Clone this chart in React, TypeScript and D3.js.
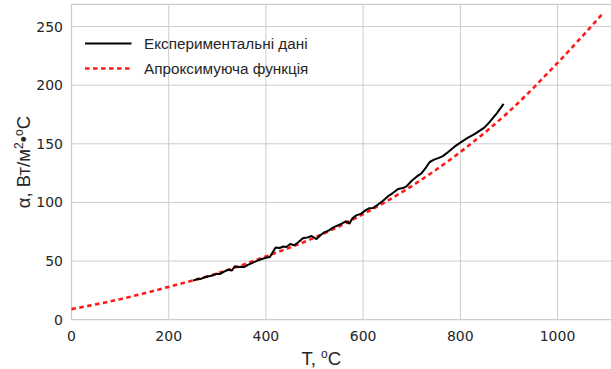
import React, { useEffect, useRef } from 'react';
import * as d3 from 'd3';

const expT = [250, 258, 266, 274, 282, 290, 298, 306, 314, 322, 330, 336, 342, 348, 356, 363, 370, 378, 384, 392,
  400, 408, 414, 420, 428, 436, 442, 450, 458, 466, 476, 486, 494, 504, 512, 520, 530, 538, 548, 556,
  565, 572, 578, 586, 596, 604, 612, 620, 630, 641, 652, 661, 672, 682, 690, 700, 710, 720, 728, 737,
  746, 756, 764, 775, 788, 800, 815, 830, 840, 850, 860, 875, 889];
const expA = [33.3, 34.5, 34.8, 36.2, 37.0, 37.6, 39.2, 39.0, 41.0, 42.6, 42.0, 45.6, 44.8, 45.2, 45.0, 46.7, 48.0, 49.5, 50.6, 51.8,
  52.8, 53.4, 57.5, 61.5, 61.2, 62.4, 62.0, 64.5, 63.5, 65.8, 69.4, 70.2, 71.4, 68.8, 72.0, 74.5, 76.2, 78.6, 80.5, 82.0,
  84.0, 82.0, 86.5, 89.0, 90.5, 93.0, 95.0, 95.2, 98.0, 101.5, 105.5, 108.0, 111.5, 112.3, 114.0, 118.5, 122.0, 124.8, 129.0, 134.5,
  136.5, 138.0, 139.5, 143.0, 147.6, 151.0, 155.0, 158.5, 161.2, 164.0, 168.5, 176.0, 184.0];

// approximating function sampled from the plot
const fitT = [0, 100, 200, 300, 400, 500, 600, 700, 800, 900, 1000, 1095];
const fitA = [9, 17.5, 28, 39.5, 54, 70, 90, 114, 143, 177.5, 219, 262];

const xTicks = [0, 200, 400, 600, 800, 1000];
const yTicks = [0, 50, 100, 150, 200, 250];

const legendLabels = ['Експериментальні дані', 'Апроксимуюча функція'];

const width = 611;
const height = 369;

export default function App() {
  const svgRef = useRef<SVGSVGElement>(null);

  useEffect(() => {
    if (!svgRef.current) return;
    const svg = d3.select(svgRef.current);
    svg.selectAll('*').remove();

    const x = d3.scaleLinear().domain([0, 1110]).range([71.5, 611]);
    const y = d3.scaleLinear().domain([0, 269]).range([319.7, 4.3]);
    const grid = '#cccccc';

    // grid lines
    svg.append('g').selectAll('line').data(xTicks.slice(1)).enter().append('line')
      .attr('x1', d => x(d)).attr('x2', d => x(d))
      .attr('y1', y.range()[0]).attr('y2', y.range()[1])
      .attr('stroke', grid).attr('stroke-width', 1);
    svg.append('g').selectAll('line').data(yTicks.slice(1)).enter().append('line')
      .attr('x1', x.range()[0]).attr('x2', x.range()[1])
      .attr('y1', d => y(d)).attr('y2', d => y(d))
      .attr('stroke', grid).attr('stroke-width', 1);

    // frame
    svg.append('path')
      .attr('d', `M${x.range()[1]},${y.range()[1]}H${x.range()[0]}V${y.range()[0]}H${x.range()[1]}`)
      .attr('fill', 'none').attr('stroke', grid).attr('stroke-width', 1.2);

    // tick labels
    svg.append('g').selectAll('text').data(xTicks).enter().append('text')
      .attr('x', d => x(d)).attr('y', 340.5)
      .attr('text-anchor', 'middle')
      .attr('font-family', 'DejaVu Sans').attr('font-size', 14).attr('fill', '#262626')
      .text(d => d);
    svg.append('g').selectAll('text').data(yTicks).enter().append('text')
      .attr('x', 63).attr('y', d => y(d) + 5)
      .attr('text-anchor', 'end')
      .attr('font-family', 'DejaVu Sans').attr('font-size', 14).attr('fill', '#262626')
      .text(d => d);

    const fit = fitT.map((t, i) => [t, fitA[i]] as [number, number]);
    const exp = expT.map((t, i) => [t, expA[i]] as [number, number]);

    svg.append('path')
      .attr('d', d3.line().x(d => x(d[0])).y(d => y(d[1])).curve(d3.curveMonotoneX)(fit))
      .attr('fill', 'none').attr('stroke', '#ff1a1a').attr('stroke-width', 2.6)
      .attr('stroke-dasharray', '4.5,3.5');

    svg.append('path')
      .attr('d', d3.line().x(d => x(d[0])).y(d => y(d[1])).curve(d3.curveLinear)(exp))
      .attr('fill', 'none').attr('stroke', '#000').attr('stroke-width', 2)
      .attr('stroke-linejoin', 'round');

    // legend
    const lg = svg.append('g');
    lg.append('line').attr('x1', 85).attr('x2', 131.5).attr('y1', 43.5).attr('y2', 43.5)
      .attr('stroke', '#000').attr('stroke-width', 2.2);
    lg.append('line').attr('x1', 85).attr('x2', 131.5).attr('y1', 68.5).attr('y2', 68.5)
      .attr('stroke', '#ff1a1a').attr('stroke-width', 2.6).attr('stroke-dasharray', '4.5,3.5');
    lg.selectAll('text').data(legendLabels).enter().append('text')
      .attr('x', 144).attr('y', (d, i) => 49 + i * 25)
      .attr('font-family', 'Liberation Sans').attr('font-size', 15.3).attr('fill', '#262626')
      .text(d => d);

    // axis titles
    const xt = svg.append('text').attr('x', 301.5).attr('y', 365)
      .attr('font-family', 'Liberation Sans').attr('font-size', 18.5).attr('fill', '#262626');
    xt.append('tspan').text('T, ');
    xt.append('tspan').attr('font-size', 12).attr('dy', -7).text('o');
    xt.append('tspan').attr('dy', 7).text('C');

    const yt = svg.append('text')
      .attr('transform', 'translate(30,162) rotate(-90)')
      .attr('text-anchor', 'middle')
      .attr('font-family', 'Liberation Sans').attr('font-size', 18.5).attr('fill', '#262626');
    yt.append('tspan').text('α, Вт/м');
    yt.append('tspan').attr('font-size', 12).attr('dy', -7).text('2');
    yt.append('tspan').attr('dy', 7).text('•');
    yt.append('tspan').attr('font-size', 12).attr('dy', -7).text('o');
    yt.append('tspan').attr('dy', 7).text('C');
  }, []);

  return (
    <div style={{ position: 'fixed', left: 0, top: 0, width, height, background: '#fff' }}>
      <svg ref={svgRef} width={width} height={height} />
    </div>
  );
}
